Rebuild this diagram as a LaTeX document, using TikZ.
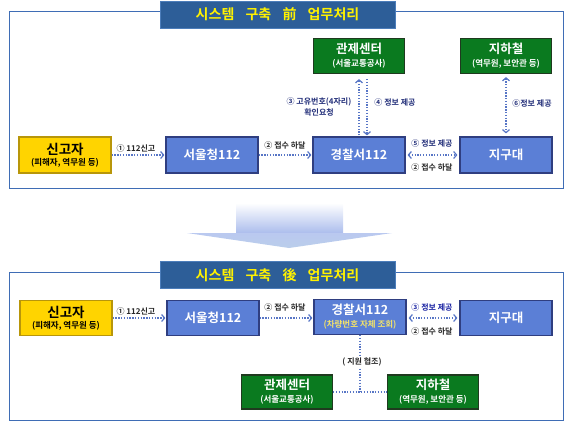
\documentclass[tikz,border=0pt]{standalone}
\usepackage{fontspec}
\IfFontExistsTF{Noto Sans CJK KR Bold}
  {\setmainfont{Noto Sans CJK KR}[BoldFont={Noto Sans CJK KR Bold}]}
  {\setmainfont{Noto Sans CJK KR}}
\usetikzlibrary{arrows.meta}
\definecolor{frameblue}{HTML}{3F6DB5}
\definecolor{titlebg}{HTML}{2D5E98}
\definecolor{titlebd}{HTML}{4C7DBA}
\definecolor{boxblue}{HTML}{5B7FD6}
\definecolor{boxblueb}{HTML}{2F3E80}
\definecolor{boxgreen}{HTML}{0A7A1F}
\definecolor{boxgreenb}{HTML}{1F3A1F}
\definecolor{boxyellow}{HTML}{FFD400}
\definecolor{boxyellowb}{HTML}{B8960A}
\definecolor{dotc}{HTML}{5876C6}
\definecolor{navy}{HTML}{24307A}
\definecolor{titley}{HTML}{FFF200}
\definecolor{suby}{HTML}{F2E36A}
\definecolor{arrowc}{HTML}{A9BBEC}
\begin{document}
\begin{tikzpicture}[x=1pt,y=-1pt,
  frame/.style={draw=frameblue,line width=1pt},
  titlebox/.style={fill=titlebg,draw=titlebd,line width=0.8pt,minimum width=235pt,minimum height=27pt,inner sep=0pt,text=titley,font=\fontsize{14}{16}\selectfont\bfseries},
  boxb/.style={draw=boxblueb,line width=1.2pt,fill=boxblue,minimum width=92pt,minimum height=36pt,text=white,inner sep=0pt,align=center,font=\fontsize{12.5}{15}\selectfont\bfseries},
  boxg/.style={draw=boxgreenb,line width=1.2pt,fill=boxgreen,minimum width=91pt,minimum height=35pt,text=white,inner sep=0pt,align=center},
  boxy/.style={draw=boxyellowb,line width=1.2pt,fill=boxyellow,minimum width=92pt,minimum height=36pt,text=black,inner sep=0pt,align=center},
  lbl/.style={font=\fontsize{8}{10}\selectfont\bfseries,inner sep=1pt,text=black!85,align=center},
  lbln/.style={lbl,text=navy},
  dotar/.style={draw=dotc,line width=1.6pt,dash pattern=on 1.3pt off 1.5pt,-{Straight Barb[length=3pt,width=7pt,line width=1.2pt]},shorten >=1pt},
  dotbi/.style={dotar,{Straight Barb[length=3pt,width=7pt,line width=1.2pt]}-{Straight Barb[length=3pt,width=7pt,line width=1.2pt]},shorten <=1pt},
  dotln/.style={draw=dotc,line width=1.6pt,dash pattern=on 1.3pt off 1.5pt}
]
\useasboundingbox (0,0) rectangle (570,428);
% ---------- top panel ----------
\draw[frame] (9,12) rectangle (563,188);
\node[titlebox] (t1) at (277.5,14.5) {시스템\hspace{0.8em}구축\hspace{0.8em}前\hspace{0.8em}업무처리};
\node[boxy] (a1) at (65,155) {{\fontsize{13.5}{15}\selectfont\bfseries 신고자}\\[-1pt]{\fontsize{8.5}{10}\selectfont\bfseries (피해자, 역무원 등)}};
\node[boxb] (b1) at (212,155) {서울청112};
\node[boxb] (c1) at (359,155) {경찰서112};
\node[boxb] (d1) at (506,155) {지구대};
\node[boxg] (e1) at (359,56) {{\fontsize{12.5}{14}\selectfont\bfseries 관제센터}\\[1pt]{\fontsize{8.5}{10}\selectfont\bfseries (서울교통공사)}};
\node[boxg] (f1) at (506,56) {{\fontsize{12.5}{14}\selectfont\bfseries 지하철}\\[1pt]{\fontsize{8.5}{10}\selectfont\bfseries (역무원, 보안관 등)}};
\draw[dotar] (a1) -- (b1);
\draw[dotar] (b1) -- (c1);
\draw[dotbi,shorten <=2pt,shorten >=2pt] (c1) -- (d1);
\draw[dotar,shorten >=5pt,shorten <=1pt] (c1.north) -- (e1.south);
\draw[dotar,shorten >=1pt,shorten <=5pt] ([xshift=8pt]e1.south) -- ([xshift=8pt]c1.north);
\draw[dotbi,shorten >=3pt,shorten <=3pt] (f1.south) -- (d1.north);
\node[lbl] (l1) at (136,148) {① 112신고};
\node[lbl] (l2) at (285,145) {② 접수 하달};
\node[lbln,font=\fontsize{8}{11}\selectfont\bfseries] (l3) at (319,107) {③ 고유번호(4자리)\\확인요청};
\node[lbln] (l4) at (395,102) {④ 정보 제공};
\node[lbln] (l5) at (432,143) {⑤ 정보 제공};
\node[lbl] (l6) at (432,167) {② 접수 하달};
\node[lbln] (l7) at (532,103) {⑥정보 제공};
% ---------- big arrow ----------
\shade[top color=white,bottom color=arrowc] (236,203) rectangle (343,234);
\shade[top color=arrowc!80,bottom color=arrowc!110!blue] (187,233) -- (392,233) -- (289,248) -- cycle;
% ---------- bottom panel ----------
\draw[frame] (9,272) rectangle (563,420);
\node[titlebox] (t2) at (277.5,275) {시스템\hspace{0.8em}구축\hspace{0.8em}後\hspace{0.8em}업무처리};
\node[boxy,minimum height=35pt] (a2) at (66,318) {{\fontsize{13.5}{15}\selectfont\bfseries 신고자}\\[-1pt]{\fontsize{8.5}{10}\selectfont\bfseries (피해자, 역무원 등)}};
\node[boxb,minimum height=35pt] (b2) at (213,318) {서울청112};
\node[boxb,minimum height=35pt] (c2) at (360,317) {경찰서112\\[-2pt]{\fontsize{8.5}{10}\selectfont\bfseries\color{suby}(차량번호 자체 조회)}};
\node[boxb,minimum height=35pt] (d2) at (506,318) {지구대};
\node[boxg,minimum height=34pt] (e2) at (287,392) {{\fontsize{12.5}{14}\selectfont\bfseries 관제센터}\\[1pt]{\fontsize{8.5}{10}\selectfont\bfseries (서울교통공사)}};
\node[boxg,minimum height=34pt] (f2) at (433,392) {{\fontsize{12.5}{14}\selectfont\bfseries 지하철}\\[1pt]{\fontsize{8.5}{10}\selectfont\bfseries (역무원, 보안관 등)}};
\coordinate (j) at (c2.south |- e2.east);
\draw[dotar] (a2) -- (b2);
\draw[dotar] (b2.east) -- (c2.west |- b2.east);
\draw[dotbi,shorten <=2pt,shorten >=2pt] (c2.east |- d2.west) -- (d2.west);
\draw[dotln] (c2.south) -- (j);
\draw[dotln] (e2.east) -- (f2.west);
\node[lbl,fill=white] (l8) at (362,362) {( 지원 협조)};
\node[lbl] (l9) at (136,311) {① 112신고};
\node[lbl] (l10) at (285,307) {② 접수 하달};
\node[lbln,text=navy!70!blue] (l11) at (432,307) {③ 정보 제공};
\node[lbl] (l12) at (432,331) {② 접수 하달};
\end{tikzpicture}
\end{document}
